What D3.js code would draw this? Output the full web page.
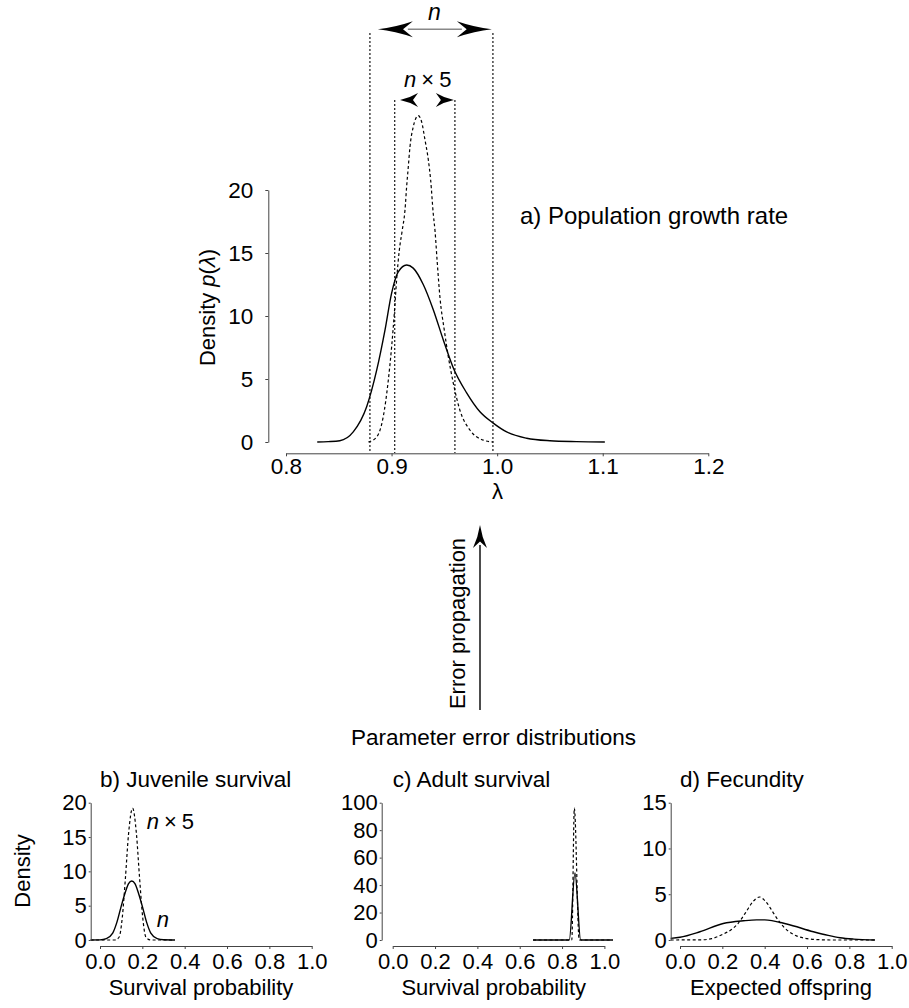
<!DOCTYPE html>
<html>
<head>
<meta charset="utf-8">
<script src="https://cdn.jsdelivr.net/npm/d3@7"></script>
<style>
body { margin: 0; background: #fff; }
svg text { font-family: "Liberation Sans", Arial, sans-serif; fill: #000; }
</style>
</head>
<body>
<script>
// main panel: lambda densities
var mainTicksX = [0.8, 0.9, 1.0, 1.1, 1.2];
var mainTicksY = [0, 5, 10, 15, 20];

var lambdaN  = [0.8296, 0.840, 0.851, 0.8637, 0.8764, 0.8859, 0.8938, 0.900, 0.9063, 0.9143, 0.9205, 0.930, 0.9395, 0.949, 0.9584, 0.9711, 0.9837, 0.9963, 1.009, 1.028, 1.050, 1.075, 1.102];
var densityN = [0, 0.03, 0.1, 0.8, 2.8, 5.7, 8.9, 11.8, 13.5, 14.05, 13.8, 12.5, 10.5, 8.1, 5.9, 3.9, 2.4, 1.5, 0.8, 0.3, 0.1, 0.03, 0];

var lambdaN5  = [0.878, 0.8859, 0.8921, 0.8969, 0.9001, 0.9026, 0.9048, 0.9073, 0.9101, 0.9127, 0.9143, 0.9158, 0.9174, 0.9205, 0.9253, 0.9285, 0.9316, 0.9348, 0.9370, 0.9395, 0.9411, 0.9433, 0.9458, 0.9499, 0.9537, 0.9584, 0.9648, 0.9742, 0.9868, 0.9963];
var densityN5 = [0, 0.4, 2.0, 4.9, 7.6, 10.2, 12.9, 15.2, 16.8, 18.4, 20.3, 21.8, 23.4, 25.0, 25.9, 25.4, 24.0, 22.4, 20.8, 18.1, 16.8, 14.2, 11.5, 8.9, 6.8, 4.7, 2.5, 0.95, 0.15, 0];

// interval lines and arrow tips (lambda)
var intervalN  = [0.8795, 0.996];
var intervalN5 = [0.903, 0.960];
var arrowN  = [0.887, 0.995];
var arrowN5 = [0.908, 0.959];

// bottom panels
var paramTicksX = [0.0, 0.2, 0.4, 0.6, 0.8, 1.0];

var juvX  = [-0.044, 0.0, 0.03, 0.06, 0.08, 0.10, 0.12, 0.135, 0.15, 0.165, 0.18, 0.20, 0.22, 0.24, 0.27, 0.30, 0.354];
var juvN  = [0, 0.02, 0.2, 1.0, 2.6, 4.9, 7.0, 8.2, 8.6, 8.2, 7.0, 4.9, 2.6, 1.0, 0.2, 0.03, 0];
var juvX5 = [-0.044, 0.07, 0.09, 0.105, 0.12, 0.135, 0.154, 0.172, 0.187, 0.202, 0.217, 0.24, 0.354];
var juvN5 = [0, 0, 0.4, 3.2, 9.0, 15.5, 19.2, 15.5, 9.0, 3.2, 0.4, 0, 0];

var adX  = [0.663, 0.834, 0.861, 0.888, 1.04];
var adN  = [0, 0, 48.8, 0, 0];
var adX5 = [0.663, 0.846, 0.858, 0.881, 1.04];
var adN5 = [0, 0, 96, 0, 0];

var fecX  = [-0.044, 0.0, 0.094, 0.204, 0.30, 0.362, 0.40, 0.504, 0.630, 0.70, 0.756, 0.82, 0.921];
var fecN  = [0.18, 0.3, 0.9, 1.8, 2.1, 2.2, 2.2, 1.75, 0.9, 0.5, 0.25, 0.1, 0];
var fecX5 = [-0.044, 0.10, 0.15, 0.20, 0.24, 0.274, 0.31, 0.345, 0.375, 0.405, 0.44, 0.472, 0.51, 0.55, 0.60, 0.66, 0.72, 0.921];
var fecN5 = [0, 0.02, 0.15, 0.6, 1.1, 1.8, 3.0, 4.2, 4.7, 4.2, 3.0, 1.9, 1.0, 0.45, 0.15, 0.03, 0, 0];

var W = 909, H = 1008;
var svg = d3.select("body").append("svg")
    .attr("width", W)
    .attr("height", H);

function zip(xs, ys) { return xs.map(function(v, i) { return [v, ys[i]]; }); }

// stealth arrowhead, tip at origin, body along +x, then rotated
function arrowHead(g, tx, ty, angle, L, w) {
    var p = "M0,0 Q" + (0.5 * L) + "," + (-0.25 * w) + " " + L + "," + (-w) +
            " L" + (0.72 * L) + ",0 L" + L + "," + w +
            " Q" + (0.5 * L) + "," + (0.25 * w) + " 0,0 Z";
    g.append("path")
        .attr("d", p)
        .attr("fill", "#000")
        .attr("transform", "translate(" + tx + "," + ty + ") rotate(" + angle + ")");
}

function styleAxis(g, size) {
    g.selectAll("text").style("font-size", size + "px")
        .style("font-family", '"Liberation Sans", Arial, sans-serif');
    g.selectAll("path, line").attr("stroke", "#444").attr("stroke-width", 1);
}

// "n x 5" label, spaced out like the original
function nTimes5(t) {
    t.append("tspan").style("font-style", "italic").text("n");
    t.append("tspan").attr("dx", 5).text("×");
    t.append("tspan").attr("dx", 5).text("5");
}

// ---------------- main panel a) ----------------
var x = d3.scaleLinear().domain([0.8, 1.2]).range([286, 708.3]);
var y = d3.scaleLinear().domain([0, 20]).range([442, 190]);

var line = d3.line()
    .x(function(d) { return x(d[0]); })
    .y(function(d) { return y(d[1]); })
    .curve(d3.curveMonotoneX);

var main = svg.append("g");

// vertical interval lines
intervalN.forEach(function(v) {
    main.append("line")
        .attr("x1", x(v)).attr("x2", x(v))
        .attr("y1", 33).attr("y2", 453)
        .attr("stroke", "#000").attr("stroke-width", 1.1)
        .attr("stroke-dasharray", "2,2");
});
intervalN5.forEach(function(v) {
    main.append("line")
        .attr("x1", x(v)).attr("x2", x(v))
        .attr("y1", 100).attr("y2", 453)
        .attr("stroke", "#000").attr("stroke-width", 1.1)
        .attr("stroke-dasharray", "2,2");
});

main.append("path")
    .datum(zip(lambdaN5, densityN5))
    .attr("d", line)
    .attr("fill", "none")
    .attr("stroke", "#000")
    .attr("stroke-width", 1.2)
    .attr("stroke-dasharray", "3,2.5");

main.append("path")
    .datum(zip(lambdaN, densityN))
    .attr("d", line)
    .attr("fill", "none")
    .attr("stroke", "#000")
    .attr("stroke-width", 1.4);

var xAx = main.append("g")
    .attr("transform", "translate(0,453.3)")
    .call(d3.axisBottom(x).tickValues(mainTicksX).tickFormat(d3.format(".1f"))
        .tickSize(3).tickSizeOuter(0).tickPadding(1.5));
styleAxis(xAx, 22.5);

var yAx = main.append("g")
    .attr("transform", "translate(268.3,0)")
    .call(d3.axisLeft(y).tickValues(mainTicksY).tickSize(3).tickSizeOuter(0).tickPadding(12));
styleAxis(yAx, 22.5);

main.append("text")
    .attr("x", 497.5).attr("y", 499)
    .attr("text-anchor", "middle")
    .style("font-size", "22px")
    .text("λ");

var ylab = main.append("text")
    .attr("transform", "translate(215,307.5) rotate(-90)")
    .attr("text-anchor", "middle")
    .style("font-size", "22px");
ylab.append("tspan").text("Density ");
ylab.append("tspan").style("font-style", "italic").text("p");
ylab.append("tspan").text("(");
ylab.append("tspan").style("font-style", "italic").text("λ");
ylab.append("tspan").text(")");

main.append("text")
    .attr("x", 520).attr("y", 223.5)
    .style("font-size", "24px")
    .text("a) Population growth rate");

// n arrow
main.append("line")
    .attr("x1", x(arrowN[0]) + 30).attr("x2", x(arrowN[1]) - 30)
    .attr("y1", 29.3).attr("y2", 29.3)
    .attr("stroke", "#888").attr("stroke-width", 1.5);
arrowHead(main, x(arrowN[0]), 29.3, 0, 35, 8);
arrowHead(main, x(arrowN[1]), 29.3, 180, 35, 8);
main.append("text")
    .attr("x", 434.5).attr("y", 20)
    .attr("text-anchor", "middle")
    .style("font-size", "23px").style("font-style", "italic")
    .text("n");

// n x 5 arrow
arrowHead(main, x(arrowN5[0]), 100, 0, 18, 7);
arrowHead(main, x(arrowN5[1]), 100, 180, 18, 7);
nTimes5(main.append("text")
    .attr("x", 427.7).attr("y", 87.3)
    .attr("text-anchor", "middle")
    .style("font-size", "22px"));

// error propagation arrow
svg.append("line")
    .attr("x1", 480).attr("x2", 480)
    .attr("y1", 710).attr("y2", 545)
    .attr("stroke", "#000").attr("stroke-width", 1.4);
arrowHead(svg, 480, 525, 90, 23, 7);
svg.append("text")
    .attr("transform", "translate(465,623.5) rotate(-90)")
    .attr("text-anchor", "middle")
    .style("font-size", "22px")
    .text("Error propagation");

svg.append("text")
    .attr("x", 493.5).attr("y", 745)
    .attr("text-anchor", "middle")
    .style("font-size", "22.5px")
    .text("Parameter error distributions");

// ---------------- bottom panels ----------------
var panels = [
    { title: "b) Juvenile survival", xlabel: "Survival probability", x0: 100, yAxisX: 90.7, yMax: 20, yTicks: [0, 5, 10, 15, 20],
      solid: zip(juvX, juvN), dashed: zip(juvX5, juvN5), ylabel: true },
    { title: "c) Adult survival", xlabel: "Survival probability", x0: 392.7, yAxisX: 381.7, yMax: 100, yTicks: [0, 20, 40, 60, 80, 100],
      solid: zip(adX, adN), dashed: zip(adX5, adN5) },
    { title: "d) Fecundity", xlabel: "Expected offspring", x0: 680, yAxisX: 670.7, yMax: 15, yTicks: [0, 5, 10, 15],
      solid: zip(fecX, fecN), dashed: zip(fecX5, fecN5) }
];

panels.forEach(function(p) {
    var g = svg.append("g");
    var px = d3.scaleLinear().domain([0, 1]).range([p.x0, p.x0 + 211.7]);
    var py = d3.scaleLinear().domain([0, p.yMax]).range([940, 802.7]);
    var pl = d3.line()
        .x(function(d) { return px(d[0]); })
        .y(function(d) { return py(d[1]); })
        .curve(d3.curveMonotoneX);

    g.append("path").datum(p.dashed).attr("d", pl)
        .attr("fill", "none").attr("stroke", "#000")
        .attr("stroke-width", 1.2).attr("stroke-dasharray", "3,2.5");
    g.append("path").datum(p.solid).attr("d", pl)
        .attr("fill", "none").attr("stroke", "#000").attr("stroke-width", 1.4);

    var gx = g.append("g")
        .attr("transform", "translate(0,946)")
        .call(d3.axisBottom(px).tickValues(paramTicksX).tickFormat(d3.format(".1f"))
            .tickSize(3).tickSizeOuter(0).tickPadding(4.5));
    styleAxis(gx, 22);

    var gy = g.append("g")
        .attr("transform", "translate(" + p.yAxisX + ",0)")
        .call(d3.axisLeft(py).tickValues(p.yTicks).tickSize(2).tickSizeOuter(0).tickPadding(2));
    styleAxis(gy, 22);

    g.append("text")
        .attr("x", p.x0).attr("y", 786.7)
        .style("font-size", "22.5px")
        .text(p.title);

    g.append("text")
        .attr("x", p.x0 + 101).attr("y", 995)
        .attr("text-anchor", "middle")
        .style("font-size", "22px")
        .text(p.xlabel);

    if (p.ylabel) {
        g.append("text")
            .attr("transform", "translate(30,871) rotate(-90)")
            .attr("text-anchor", "middle")
            .style("font-size", "22px")
            .text("Density");
    }
});

// labels inside juvenile panel
nTimes5(svg.append("text")
    .attr("x", 146.7).attr("y", 829)
    .style("font-size", "22px"));
svg.append("text")
    .attr("x", 156.7).attr("y", 926.7)
    .style("font-size", "22px").style("font-style", "italic")
    .text("n");
</script>
</body>
</html>
